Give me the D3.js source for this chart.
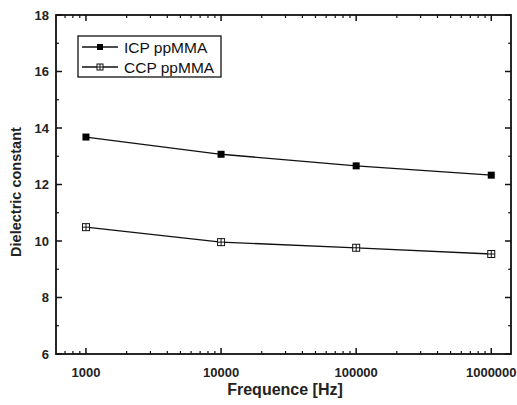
<!DOCTYPE html>
<html>
<head>
<meta charset="utf-8">
<script src="https://cdn.jsdelivr.net/npm/d3@7"></script>
<style>
  body { margin: 0; background: #fff; }
  svg text { font-family: "Liberation Sans", Arial, sans-serif; }
</style>
</head>
<body>
<svg id="chart"></svg>
<script>
// data
const frequencies = [1000, 10000, 100000, 1000000];
const icpValues = [13.68, 13.07, 12.66, 12.33];
const ccpValues = [10.49, 9.96, 9.76, 9.54];
const seriesNames = ["ICP ppMMA", "CCP ppMMA"];
const yTicks = [6, 8, 10, 12, 14, 16, 18];

const width = 517, height = 405;
const margin = {left: 56, right: 6, top: 15, bottom: 51};

const svg = d3.select("#chart")
  .attr("width", width)
  .attr("height", height);

const xScale = d3.scaleLog()
  .domain([600, 1400000])
  .range([margin.left, width - margin.right]);

const yScale = d3.scaleLinear()
  .domain([6, 18])
  .range([height - margin.bottom, margin.top]);

// major and minor ticks
const majorX = frequencies;
const minorX = [];
[100, 1000, 10000, 100000, 1000000].forEach(function(dec) {
  for (let k = 2; k <= 9; k++) {
    const v = dec * k;
    if (v > 600 && v < 1400000) minorX.push(v);
  }
});
const minorY = [7, 9, 11, 13, 15, 17];

const x0 = xScale.range()[0], x1 = xScale.range()[1];
const y0 = yScale.range()[0], y1 = yScale.range()[1];

const axisColor = "#111";

function drawX(y, dir) {
  const g = svg.append("g").attr("stroke", axisColor);
  g.selectAll(".maj").data(majorX).enter().append("line")
    .attr("x1", d => xScale(d)).attr("x2", d => xScale(d))
    .attr("y1", y).attr("y2", y - dir * 6).attr("stroke-width", 1.5);
  g.selectAll(".min").data(minorX).enter().append("line")
    .attr("x1", d => xScale(d)).attr("x2", d => xScale(d))
    .attr("y1", y).attr("y2", y - dir * 3).attr("stroke-width", 1.2);
}
function drawY(x, dir) {
  const g = svg.append("g").attr("stroke", axisColor);
  g.selectAll(".maj").data(yTicks).enter().append("line")
    .attr("y1", d => yScale(d)).attr("y2", d => yScale(d))
    .attr("x1", x).attr("x2", x + dir * 6).attr("stroke-width", 1.5);
  g.selectAll(".min").data(minorY).enter().append("line")
    .attr("y1", d => yScale(d)).attr("y2", d => yScale(d))
    .attr("x1", x).attr("x2", x + dir * 3).attr("stroke-width", 1.2);
}

// frame
svg.append("rect")
  .attr("x", x0).attr("y", y1)
  .attr("width", x1 - x0).attr("height", y0 - y1)
  .attr("fill", "none").attr("stroke", axisColor).attr("stroke-width", 1.8);

drawX(y0, 1);
drawX(y1, -1);
drawY(x0, 1);
drawY(x1, -1);

// tick labels
svg.append("g").selectAll("text").data(majorX).enter().append("text")
  .attr("x", d => xScale(d)).attr("y", y0 + 23)
  .attr("text-anchor", "middle")
  .attr("font-size", 13).attr("font-weight", "bold").attr("fill", "#222")
  .text(d => d);

svg.append("g").selectAll("text").data(yTicks).enter().append("text")
  .attr("x", x0 - 7).attr("y", d => yScale(d) + 4.5)
  .attr("text-anchor", "end")
  .attr("font-size", 13).attr("font-weight", "bold").attr("fill", "#222")
  .text(d => d);

// axis titles
svg.append("text")
  .attr("x", 285).attr("y", 395)
  .attr("text-anchor", "middle")
  .attr("font-size", 16).attr("font-weight", "bold").attr("fill", "#222")
  .text("Frequence [Hz]");

svg.append("text")
  .attr("transform", "translate(21, 192) rotate(-90)")
  .attr("text-anchor", "middle")
  .attr("font-size", 14.5).attr("font-weight", "bold").attr("fill", "#222")
  .text("Dielectric constant");

// series
const line = d3.line()
  .x(d => xScale(d[0]))
  .y(d => yScale(d[1]));

const icp = frequencies.map((f, i) => [f, icpValues[i]]);
const ccp = frequencies.map((f, i) => [f, ccpValues[i]]);

svg.append("path").datum(icp).attr("d", line)
  .attr("fill", "none").attr("stroke", "#111").attr("stroke-width", 1.3);
svg.append("path").datum(ccp).attr("d", line)
  .attr("fill", "none").attr("stroke", "#111").attr("stroke-width", 1.3);

function filledSquare(g, cx, cy, s) {
  g.append("rect").attr("x", cx - s / 2).attr("y", cy - s / 2)
    .attr("width", s).attr("height", s).attr("fill", "#000");
}
function crossSquare(g, cx, cy, s) {
  g.append("rect").attr("x", cx - s / 2).attr("y", cy - s / 2)
    .attr("width", s).attr("height", s).attr("fill", "#fff")
    .attr("stroke", "#111").attr("stroke-width", 1);
  g.append("line").attr("x1", cx - s / 2).attr("x2", cx + s / 2)
    .attr("y1", cy).attr("y2", cy).attr("stroke", "#111").attr("stroke-width", 1);
  g.append("line").attr("x1", cx).attr("x2", cx)
    .attr("y1", cy - s / 2).attr("y2", cy + s / 2).attr("stroke", "#111").attr("stroke-width", 1);
}

const marks = svg.append("g");
icp.forEach(d => filledSquare(marks, xScale(d[0]), yScale(d[1]), 7));
ccp.forEach(d => crossSquare(marks, xScale(d[0]), yScale(d[1]), 7));

// legend
const legend = svg.append("g");
legend.append("rect")
  .attr("x", 78).attr("y", 36).attr("width", 143).attr("height", 41)
  .attr("fill", "#fff").attr("stroke", "#111").attr("stroke-width", 1.3);

const legendRows = [47, 67];
legendRows.forEach(function(y, i) {
  legend.append("line").attr("x1", 82).attr("x2", 118)
    .attr("y1", y).attr("y2", y).attr("stroke", "#111").attr("stroke-width", 1.3);
  if (i === 0) filledSquare(legend, 100, y, 6);
  else crossSquare(legend, 100, y, 6);
  legend.append("text")
    .attr("x", 124).attr("y", y + 6)
    .attr("font-size", 15.5).attr("fill", "#111")
    .text(seriesNames[i]);
});
</script>
</body>
</html>
